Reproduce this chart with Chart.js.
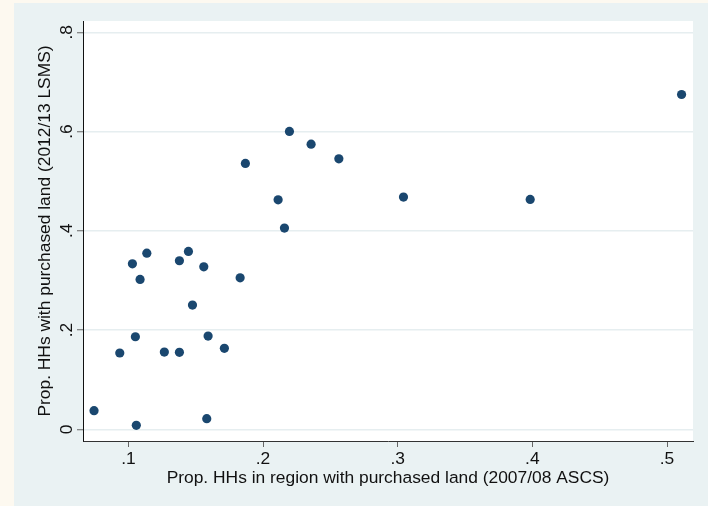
<!DOCTYPE html>
<html>
<head>
<meta charset="utf-8">
<script src="https://cdn.jsdelivr.net/npm/chart.js@4/dist/chart.umd.min.js"></script>
<style>
    html, body { margin: 0; padding: 0; background: #fdf9f0; width: 708px; height: 506px; overflow: hidden; }
    #graphRegion { position: absolute; left: 14px; top: 3px; width: 694px; height: 503px; background: #eaf2f3; }
</style>
</head>
<body>
<div id="graphRegion"><canvas id="scatterChart"></canvas></div>
<script>
// Regional land purchase: 2007/08 ASCS share vs 2012/13 LSMS share
const ascsShare = [0.0745, 0.0936, 0.1030, 0.1052, 0.1059, 0.1087, 0.1137, 0.1267, 0.1379, 0.1379,
                   0.1446, 0.1476, 0.1560, 0.1582, 0.1592, 0.1713, 0.1830, 0.1869, 0.2112, 0.2159,
                   0.2196, 0.2357, 0.2563, 0.3043, 0.3984, 0.5108];
const lsmsShare = [0.0375, 0.1537, 0.3335, 0.1865, 0.0080, 0.3020, 0.3550, 0.1557, 0.3396, 0.1551,
                   0.3585, 0.2504, 0.3275, 0.0213, 0.1879, 0.1631, 0.3053, 0.5358, 0.4624, 0.4054,
                   0.6002, 0.5746, 0.5450, 0.4680, 0.4632, 0.6747];

const xTickValues = [0.1, 0.2, 0.3, 0.4, 0.5];
const xTickLabels = ['.1', '.2', '.3', '.4', '.5'];
const yTickValues = [0, 0.2, 0.4, 0.6, 0.8];
const yTickLabels = ['0', '.2', '.4', '.6', '.8'];

const xTitle = 'Prop. HHs in region with purchased land (2007/08 ASCS)';
const yTitle = 'Prop. HHs with purchased land (2012/13 LSMS)';

const FONT = '"Liberation Sans", Arial, Helvetica, sans-serif';
const TEXT = '#111';
const MARKER = '#1a476f';

// white plot region behind the chart area
const plotRegion = {
    id: 'plotRegion',
    beforeDraw(chart) {
        const { ctx, chartArea: a } = chart;
        ctx.save();
        ctx.fillStyle = '#ffffff';
        ctx.fillRect(a.left, a.top, a.right - a.left, a.bottom - a.top);
        ctx.restore();
    }
};

// Stata-style vertical y tick labels
const yTickText = {
    id: 'yTickText',
    afterDraw(chart) {
        const { ctx } = chart;
        const y = chart.scales.y;
        ctx.save();
        ctx.fillStyle = TEXT;
        ctx.font = '17.4px ' + FONT;
        ctx.textAlign = 'center';
        ctx.textBaseline = 'middle';
        yTickValues.forEach((v, i) => {
            ctx.save();
            ctx.translate(y.right - 16, y.getPixelForValue(v));
            ctx.rotate(-Math.PI / 2);
            ctx.fillText(yTickLabels[i], 0, 0);
            ctx.restore();
        });
        ctx.restore();
    }
};

const points = ascsShare.map((x, i) => ({ x, y: lsmsShare[i] }));

new Chart(document.getElementById('scatterChart'), {
    type: 'scatter',
    data: {
        datasets: [{
            data: points,
            backgroundColor: MARKER,
            borderWidth: 0,
            pointRadius: 4.6,
            pointHoverRadius: 4.6
        }]
    },
    options: {
        responsive: true,
        maintainAspectRatio: false,
        animation: false,
        layout: { padding: { top: 18, right: 15, left: 0, bottom: 0 } },
        plugins: { legend: { display: false }, tooltip: { enabled: false } },
        scales: {
            x: {
                type: 'linear',
                min: 0.0663,
                max: 0.5193,
                afterBuildTicks: (s) => { s.ticks = xTickValues.map(v => ({ value: v })); },
                afterFit: (s) => { s.height = 65; },
                ticks: {
                    color: TEXT,
                    font: { family: FONT, size: 17.4 },
                    padding: 2,
                    maxRotation: 0,
                    callback: (v) => xTickLabels[xTickValues.indexOf(v)] ?? ''
                },
                grid: { drawOnChartArea: false, drawTicks: true, tickLength: 6, tickColor: '#666', tickWidth: 1 },
                border: { display: true, color: '#333', width: 1 },
                title: { display: true, text: xTitle, color: TEXT, font: { family: FONT, size: 17.4 }, padding: { top: 0, bottom: 17 } }
            },
            y: {
                type: 'linear',
                min: -0.0236,
                max: 0.8228,
                afterBuildTicks: (s) => { s.ticks = yTickValues.map(v => ({ value: v })); },
                afterFit: (s) => { s.width = 69; },
                ticks: { display: false },
                grid: { color: '#e6eef0', lineWidth: 1.5, drawTicks: true, tickLength: 6, tickColor: '#666', tickWidth: 1 },
                border: { display: true, color: '#111', width: 1 },
                title: { display: true, text: yTitle, color: TEXT, font: { family: FONT, size: 17.4 }, padding: { top: 21, bottom: 0 } }
            }
        }
    },
    plugins: [plotRegion, yTickText]
});
</script>
</body>
</html>
